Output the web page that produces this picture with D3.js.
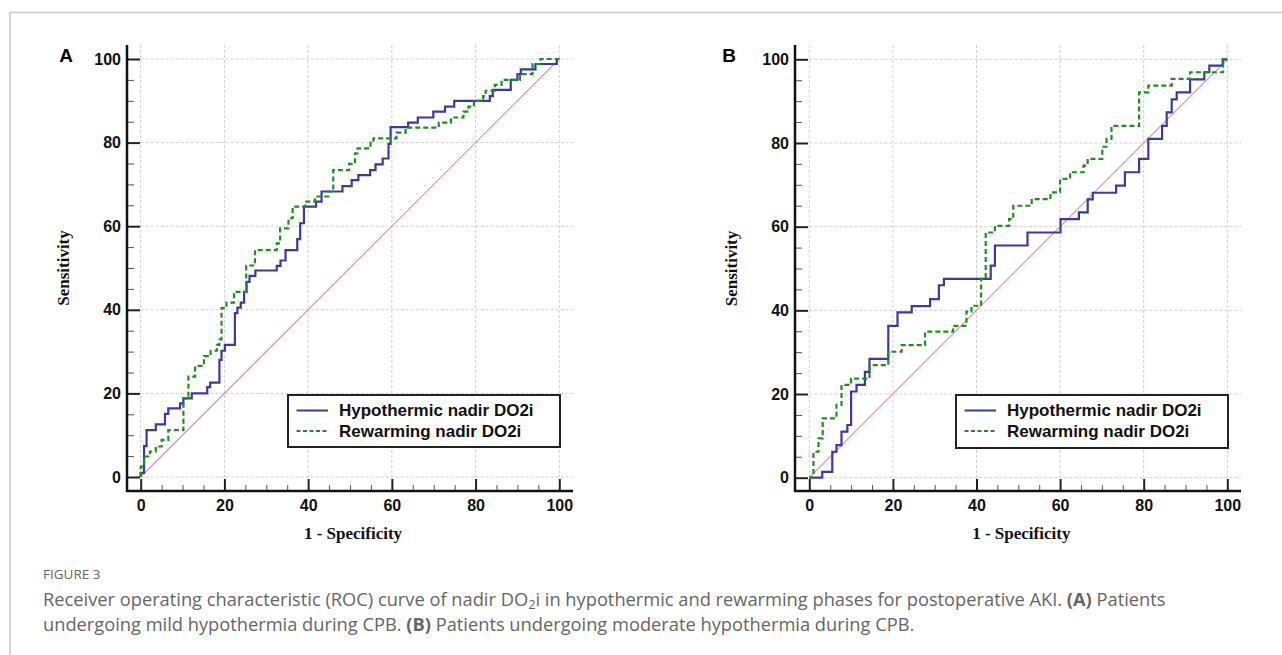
<!DOCTYPE html>
<html><head><meta charset="utf-8">
<script src="https://cdn.jsdelivr.net/npm/d3@7"></script>
<style>body{margin:0;background:#fff}svg{display:block}</style>
</head><body>
<svg id="c" width="1282" height="655"></svg>
<script>
// ---------- DATA ----------
const majorTicks = [0, 20, 40, 60, 80, 100];
const minorTicks = [5,10,15,25,30,35,45,50,55,65,70,75,85,90,95];
const seriesNames = ["Hypothermic nadir DO2i", "Rewarming nadir DO2i"];
const panelLabels = ["A", "B"];

const hypoA_fpr = [0,0,0.8,1.4,3.6,5.8,6.6,9.4,10.2,12.2,15.9,16.6,18.8,19.3,20.1,22.5,23.1,23.9,24.7,25.3,26.0,27.4,32.5,33.4,34.6,37.4,38.1,39.0,41.9,43.2,48.2,50.4,52.0,54.8,56.1,57.8,59.2,59.7,63.9,66.2,69.9,72.7,74.9,83.4,84.1,88.4,90.0,90.8,94.3,99.4,100];
const hypoA_tpr = [0,1.0,7.4,11.2,12.6,15.1,16.4,17.6,18.8,20.0,21.5,22.6,28.0,30.2,31.6,39.2,40.5,41.7,44.3,46.7,48.1,49.4,50.5,51.8,54.3,56.9,60.7,64.7,65.9,68.3,69.6,71.0,72.2,73.4,74.8,76.2,79.7,83.7,84.8,86.0,87.4,88.6,90.0,91.1,92.6,95.0,96.4,97.5,98.8,100,100];

const rewA_fpr = [0,0,0.8,2.2,3.6,5.0,6.6,10.2,11.4,13.0,15.1,16.7,18.2,18.8,19.3,20.5,22.3,25.2,27.3,32.5,33.3,35.3,36.3,39.3,41.6,44.8,46.0,49.8,51.2,51.8,54.9,55.6,61.1,63.3,71.2,74.1,77.1,78.3,79.6,81.8,82.4,84.6,86.2,90.6,93.6,95.5,100];
const rewA_tpr = [0,2.5,4.9,6.1,7.3,8.9,11.2,18.8,24.0,26.6,28.9,30.2,31.6,32.9,40.4,41.7,44.3,50.6,54.3,55.9,59.5,61.9,64.7,65.9,67.1,68.3,73.4,74.9,77.4,78.6,80.0,81.0,82.4,83.6,84.8,86.0,87.4,88.6,90.0,91.1,92.4,93.8,95.0,96.4,98.8,100,100];

const hypoB_fpr = [0,3.1,5.5,6.5,7.7,9.1,10.0,11.3,13.3,14.4,18.9,21.1,24.5,28.9,31.0,32.2,43.4,44.4,52.2,60.1,64.5,66.6,67.8,73.4,75.5,78.9,81.1,84.4,85.5,86.7,87.9,91.1,94.5,95.7,98.9,100];
const hypoB_tpr = [0,1.4,6.2,7.8,11.0,12.6,20.6,22.2,25.3,28.4,36.3,39.5,41.0,42.7,46.0,47.5,50.7,55.5,58.6,61.8,63.4,66.5,68.1,69.8,73.0,76.2,81.0,84.1,87.3,90.4,92.1,95.2,96.9,98.5,100,100];

const rewB_fpr = [0,1.0,2.2,3.2,6.5,7.7,10.0,14.4,18.9,22.1,27.7,34.4,37.6,38.8,41.1,42.2,44.4,47.8,48.8,53.2,57.7,60.0,62.4,65.6,66.6,70.1,71.1,72.3,78.9,81.1,86.7,91.1,99.0,100];
const rewB_tpr = [0,6.2,9.4,14.2,17.4,22.2,23.7,26.9,30.1,31.7,34.9,36.3,39.7,41.1,47.5,58.6,60.2,61.8,65.0,66.6,68.2,71.4,73.0,74.6,76.2,79.1,81.0,84.1,92.1,93.7,95.3,96.9,100,100];

const panelSeries = [
  [[hypoA_fpr, hypoA_tpr], [rewA_fpr, rewA_tpr]],
  [[hypoB_fpr, hypoB_tpr], [rewB_fpr, rewB_tpr]]
];

// ---------- LAYOUT ----------
const svg = d3.select("#c");
const W = 1282, H = 655;
const colors = ["#3a3aa6", "#1f8f1f"];
const dashes = [null, "5,3"];
const panels = [
  {x0: 140.7, x1: 559.3, y0: 477, y1: 59, axisX: 127, axisY: 491, axisRight: 573, top: 45, letterX: 66,
   legend: {x: 288, y: 395, w: 272, h: 52}},
  {x0: 809.3, x1: 1227.3, y0: 477.7, y1: 59.3, axisX: 795, axisY: 491, axisRight: 1241, top: 45, letterX: 729,
   legend: {x: 956, y: 395, w: 272, h: 53}}
];

// card border
svg.append("line").attr("x1", 10).attr("x2", W).attr("y1", 12.5).attr("y2", 12.5).attr("stroke", "#c8c8c8").attr("stroke-width", 1.5);
svg.append("line").attr("x1", 10).attr("x2", 10).attr("y1", 12).attr("y2", H).attr("stroke", "#c8c8c8").attr("stroke-width", 1.5);

panels.forEach((p, pi) => {
  const x = d3.scaleLinear().domain([0, 100]).range([p.x0, p.x1]);
  const y = d3.scaleLinear().domain([0, 100]).range([p.y0, p.y1]);
  const g = svg.append("g");

  // gridlines
  g.append("g").selectAll("line").data(majorTicks).join("line")
    .attr("x1", p.x0).attr("x2", p.axisRight).attr("y1", d => y(d)).attr("y2", d => y(d))
    .attr("stroke", "#cfcfcf").attr("stroke-width", 1).attr("stroke-dasharray", "3,2");
  g.append("g").selectAll("line").data(majorTicks).join("line")
    .attr("x1", d => x(d)).attr("x2", d => x(d)).attr("y1", p.top).attr("y2", p.y0)
    .attr("stroke", "#cfcfcf").attr("stroke-width", 1).attr("stroke-dasharray", "3,2");

  // diagonal reference
  g.append("line").attr("x1", x(0)).attr("y1", y(0)).attr("x2", x(100)).attr("y2", y(100))
    .attr("stroke", "#e3909e").attr("stroke-width", 1.1);

  // curves
  const line = d3.line().x(d => x(d[0])).y(d => y(d[1])).curve(d3.curveStepAfter);
  panelSeries[pi].forEach((s, si) => {
    const pts = s[0].map((v, i) => [v, s[1][i]]);
    g.append("path").datum(pts).attr("d", line)
      .attr("fill", "none").attr("stroke", colors[si]).attr("stroke-width", 2.2)
      .attr("stroke-dasharray", dashes[si]);
  });

  // y axis
  const yAx = g.append("g").attr("transform", `translate(${p.axisX},0)`)
    .call(d3.axisLeft(y).tickValues(majorTicks).tickSize(-13).tickPadding(6));
  yAx.select(".domain").remove();
  yAx.selectAll(".tick line").attr("stroke", "#222").attr("stroke-width", 2);
  yAx.selectAll(".tick text").attr("font-family", "Liberation Sans, Arial, sans-serif")
    .attr("font-weight", "bold").attr("font-size", 16).attr("fill", "#111");
  const yMin = g.append("g").attr("transform", `translate(${p.axisX},0)`)
    .call(d3.axisLeft(y).tickValues(minorTicks).tickSize(-7).tickFormat(""));
  yMin.select(".domain").remove();
  yMin.selectAll(".tick line").attr("stroke", "#555").attr("stroke-width", 1);
  g.append("line").attr("x1", p.axisX).attr("x2", p.axisX).attr("y1", p.top).attr("y2", p.axisY + 1)
    .attr("stroke", "#111").attr("stroke-width", 2.5);

  // x axis
  const xAx = g.append("g").attr("transform", `translate(0,${p.axisY})`)
    .call(d3.axisBottom(x).tickValues(majorTicks).tickSize(-12).tickPadding(9));
  xAx.select(".domain").remove();
  xAx.selectAll(".tick line").attr("stroke", "#222").attr("stroke-width", 2);
  xAx.selectAll(".tick text").attr("font-family", "Liberation Sans, Arial, sans-serif")
    .attr("font-weight", "bold").attr("font-size", 16).attr("fill", "#111");
  const xMin = g.append("g").attr("transform", `translate(0,${p.axisY})`)
    .call(d3.axisBottom(x).tickValues(minorTicks).tickSize(-6).tickFormat(""));
  xMin.select(".domain").remove();
  xMin.selectAll(".tick line").attr("stroke", "#555").attr("stroke-width", 1);
  g.append("line").attr("x1", p.axisX - 1).attr("x2", p.axisRight).attr("y1", p.axisY).attr("y2", p.axisY)
    .attr("stroke", "#111").attr("stroke-width", 2.5);

  // axis titles
  g.append("text").attr("x", (p.x0 + p.x1) / 2 + 3).attr("y", 539).attr("text-anchor", "middle")
    .attr("font-family", "Liberation Serif, Times New Roman, serif").attr("font-weight", "bold")
    .attr("font-size", 17).attr("fill", "#111").text("1 - Specificity");
  g.append("text").attr("transform", `translate(${p.axisX - 64},${(p.y0 + p.y1) / 2}) rotate(-90)`)
    .attr("text-anchor", "middle").attr("dy", "0.35em")
    .attr("font-family", "Liberation Serif, Times New Roman, serif").attr("font-weight", "bold")
    .attr("font-size", 17).attr("fill", "#111").text("Sensitivity");

  // panel letter
  g.append("text").attr("x", p.letterX).attr("y", 62).attr("text-anchor", "middle")
    .attr("font-family", "Liberation Sans, Arial, sans-serif").attr("font-weight", "bold")
    .attr("font-size", 19).attr("fill", "#000").text(panelLabels[pi]);

  // legend
  const L = p.legend;
  const lg = g.append("g");
  lg.append("rect").attr("x", L.x).attr("y", L.y).attr("width", L.w).attr("height", L.h)
    .attr("fill", "#fff").attr("stroke", "#222").attr("stroke-width", 2);
  seriesNames.forEach((name, si) => {
    const yy = L.y + 15.5 + si * 20.5;
    lg.append("line").attr("x1", L.x + 8.5).attr("x2", L.x + 40).attr("y1", yy).attr("y2", yy)
      .attr("stroke", colors[si]).attr("stroke-width", 2).attr("stroke-dasharray", si ? "4,2.5" : null);
    lg.append("text").attr("x", L.x + 51).attr("y", yy).attr("dy", "0.35em")
      .attr("font-family", "Liberation Sans, Arial, sans-serif").attr("font-weight", "bold")
      .attr("font-size", 17).attr("fill", "#111").text(name);
  });
});

// caption
const capFont = "Open Sans, Noto Sans, sans-serif";
svg.append("text").attr("x", 43).attr("y", 579).attr("font-family", capFont)
  .attr("font-size", 13.5).attr("fill", "#666").text("FIGURE 3");

const line1 = svg.append("text").attr("x", 43).attr("y", 606).attr("font-family", capFont)
  .attr("font-size", 17).attr("fill", "#666");
line1.append("tspan").text("Receiver operating characteristic (ROC) curve of nadir DO");
line1.append("tspan").attr("font-size", "0.7em").attr("dy", 2.5).text("2");
line1.append("tspan").attr("dy", -2.5).text("i in hypothermic and rewarming phases for postoperative AKI. ");
line1.append("tspan").attr("font-weight", "bold").text("(A)");
line1.append("tspan").text(" Patients");

const line2 = svg.append("text").attr("x", 43).attr("y", 631).attr("font-family", capFont)
  .attr("font-size", 17).attr("fill", "#666");
line2.append("tspan").text("undergoing mild hypothermia during CPB. ");
line2.append("tspan").attr("font-weight", "bold").text("(B)");
line2.append("tspan").text(" Patients undergoing moderate hypothermia during CPB.");

// fit caption width to the reference line length
const w1 = line1.node().getComputedTextLength();
const fs = Math.max(14, Math.min(19, 17 * 1123 / w1));
line1.attr("font-size", fs);
line2.attr("font-size", fs);
</script>
</body></html>
